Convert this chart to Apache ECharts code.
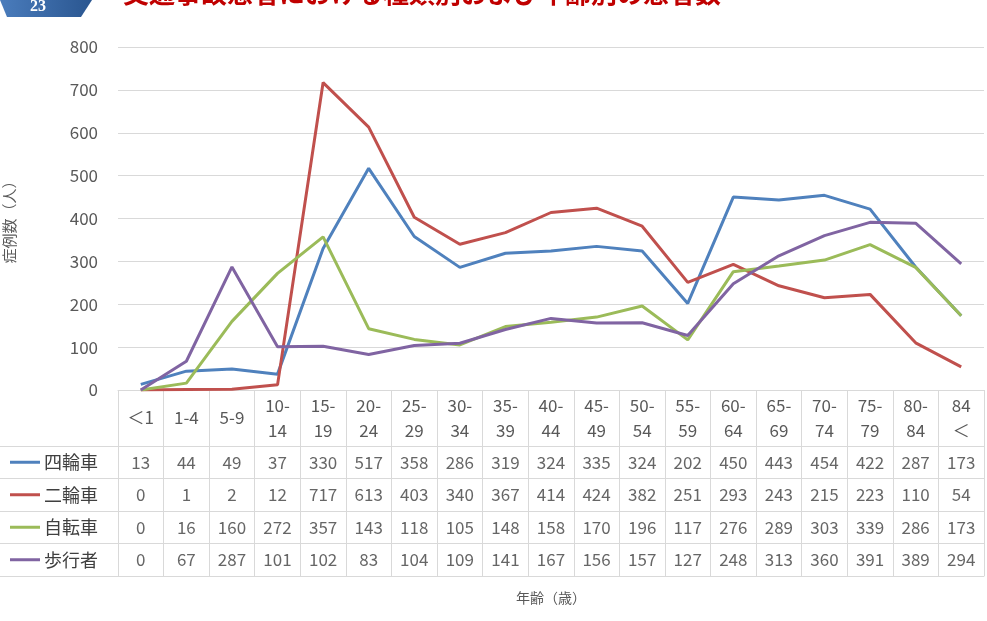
<!DOCTYPE html>
<html>
<head>
<meta charset="utf-8">
<script src="https://cdn.jsdelivr.net/npm/echarts@6/dist/echarts.min.js"></script>
<style>
    html, body { margin: 0; padding: 0; background: #fff; }
    #main { width: 987px; height: 621px; }
</style>
</head>
<body>
<div id="main"></div>
<script>
    // 年齢区分
    var ageGroups = ['＜1', '1-4', '5-9', '10-\n14', '15-\n19', '20-\n24', '25-\n29', '30-\n34', '35-\n39', '40-\n44',
        '45-\n49', '50-\n54', '55-\n59', '60-\n64', '65-\n69', '70-\n74', '75-\n79', '80-\n84', '84\n＜'];
    var seriesNames = ['四輪車', '二輪車', '自転車', '歩行者'];
    var yTicks = [0, 100, 200, 300, 400, 500, 600, 700, 800];
    var yonrin = [13, 44, 49, 37, 330, 517, 358, 286, 319, 324, 335, 324, 202, 450, 443, 454, 422, 287, 173];
    var nirin = [0, 1, 2, 12, 717, 613, 403, 340, 367, 414, 424, 382, 251, 293, 243, 215, 223, 110, 54];
    var jitensha = [0, 16, 160, 272, 357, 143, 118, 105, 148, 158, 170, 196, 117, 276, 289, 303, 339, 286, 173];
    var hokousha = [0, 67, 287, 101, 102, 83, 104, 109, 141, 167, 156, 157, 127, 248, 313, 360, 391, 389, 294];
    var colors = ['#4f81bd', '#c0504d', '#9bbb59', '#8064a2'];

    var allData = [yonrin, nirin, jitensha, hokousha];
    var font = '"Noto Sans CJK JP", "Noto Sans", sans-serif';
    var gridColor = '#d9d9d9';

    // 折れ線
    var lineSeries = allData.map(function (d, i) {
        return {
            name: seriesNames[i], type: 'line', data: d,
            xAxisIndex: 0, yAxisIndex: 0,
            showSymbol: false, silent: true,
            lineStyle: { width: 3, color: colors[i] },
            itemStyle: { color: colors[i] }
        };
    });

    // データテーブル
    var tableData = [];
    allData.forEach(function (d, r) {
        d.forEach(function (v, c) { tableData.push([c, r, v]); });
    });

    var rich = { t: { fontSize: 18, color: '#404040', fontFamily: font, padding: [0, 0, 0, 4] } };
    colors.forEach(function (c, i) {
        rich['l' + i] = { width: 30, height: 3, backgroundColor: c };
    });

    var myChart = echarts.init(document.getElementById('main'));
    var option = {
        animation: false,
        textStyle: { fontFamily: font },
        graphic: [
            {
                type: 'polygon',
                shape: { points: [[0, 0], [92, 0], [81, 17], [7, 17]] },
                style: {
                    fill: new echarts.graphic.LinearGradient(0, 0, 1, 0, [
                        { offset: 0, color: '#4a7cbc' }, { offset: 1, color: '#2a5690' }])
                }
            },
            {
                type: 'text', left: 30, top: -1,
                style: { text: '23', fill: '#fff', font: 'bold 16px "Liberation Serif", serif' }
            },
            {
                type: 'text', left: 123, top: -20,
                style: {
                    text: '交通事故患者における種類別および年齢別の患者数',
                    fill: '#c00000', font: 'bold 26px ' + font
                }
            }
        ],
        grid: [
            { left: 118, right: 3, top: 47, bottom: 231, outerBoundsMode: 'none', containLabel: false },
            { left: 118, right: 3, top: 446, bottom: 45, outerBoundsMode: 'none', containLabel: false }
        ],
        xAxis: [
            {
                type: 'category', gridIndex: 0, data: ageGroups, boundaryGap: true,
                axisLine: { show: true, lineStyle: { color: gridColor } },
                axisTick: { show: true, interval: 0, length: 56, lineStyle: { color: gridColor } },
                axisLabel: {
                    interval: 0, margin: 28, verticalAlign: 'middle',
                    fontSize: 17, lineHeight: 25, color: '#595959'
                }
            },
            {
                type: 'category', gridIndex: 1, data: ageGroups, boundaryGap: true,
                axisLine: { show: true, lineStyle: { color: gridColor } },
                axisTick: { show: false },
                axisLabel: { show: false },
                splitLine: { show: true, interval: 0, lineStyle: { color: gridColor } },
                name: '年齢（歳）', nameLocation: 'middle', nameGap: 15,
                nameTextStyle: { fontSize: 14, color: '#595959' }
            }
        ],
        yAxis: [
            {
                type: 'value', gridIndex: 0, min: yTicks[0], max: yTicks[yTicks.length - 1], interval: 100,
                axisLine: { show: false }, axisTick: { show: false },
                axisLabel: { fontSize: 17, color: '#595959', margin: 20 },
                splitLine: { lineStyle: { color: gridColor } },
                name: '症例数（人）', nameLocation: 'middle', nameRotate: 90, nameGap: 101,
                nameTextStyle: { fontSize: 15, color: '#595959' }
            },
            {
                type: 'category', gridIndex: 1, data: seriesNames, inverse: true,
                axisLine: { show: true, lineStyle: { color: gridColor } },
                axisTick: { show: true, length: 118, lineStyle: { color: gridColor } },
                splitLine: { show: true, lineStyle: { color: gridColor } },
                axisLabel: {
                    margin: 20, rich: rich,
                    formatter: function (v, i) { return '{l' + i + '|}{t|' + v + '}'; }
                }
            }
        ],
        series: lineSeries.concat([{
            type: 'scatter', xAxisIndex: 1, yAxisIndex: 1, data: tableData,
            symbolSize: 0, silent: true,
            label: {
                show: true, position: 'inside', fontSize: 17, color: '#404040',
                formatter: function (p) { return p.value[2]; }
            }
        }])
    };
    myChart.setOption(option);
</script>
</body>
</html>
